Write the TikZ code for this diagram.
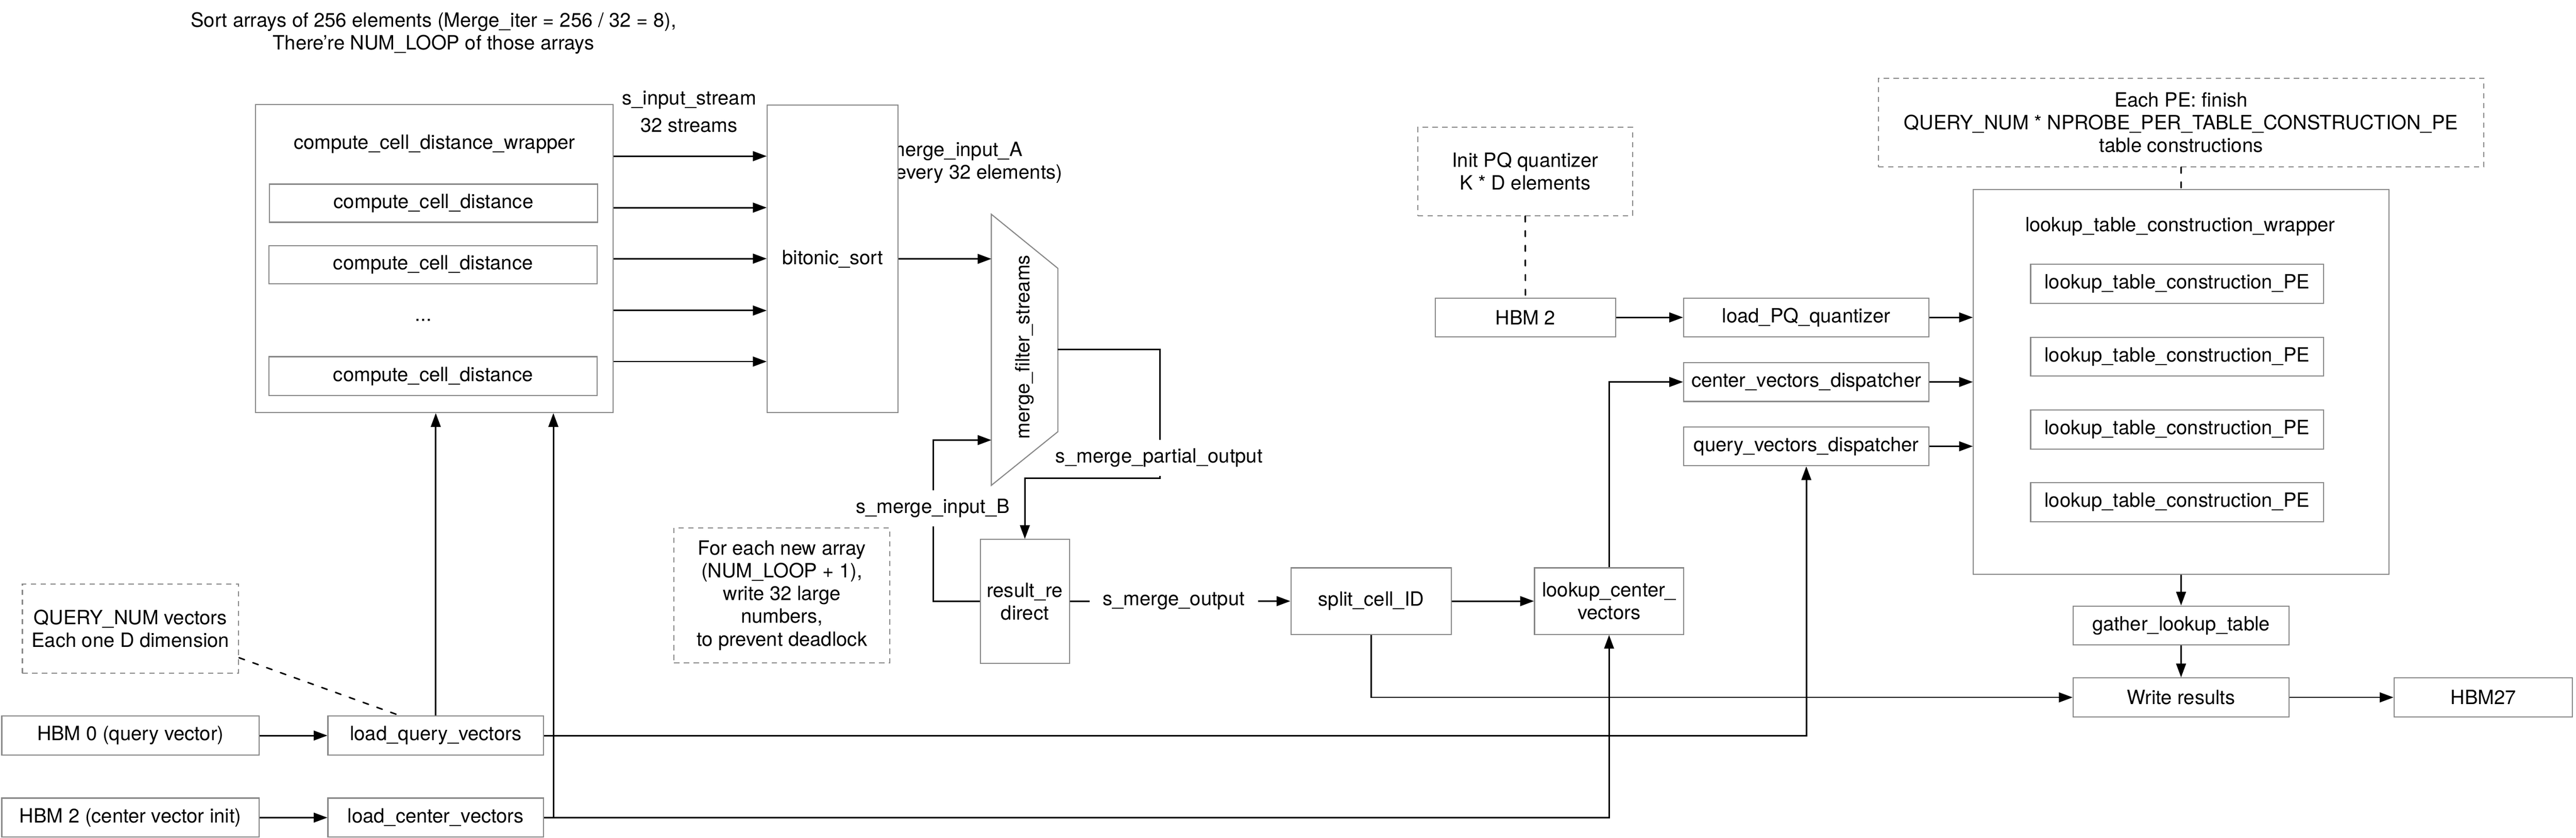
\documentclass[tikz,border=0pt]{standalone}
\usepackage{fontspec}
\setmainfont{TeX Gyre Heros}
\usetikzlibrary{arrows.meta}
\definecolor{boxgray}{HTML}{888888}

\begin{document}
\begin{tikzpicture}[
  font=\fontsize{12.6}{14.6}\selectfont,
  block/.style={draw=boxgray, line width=0.7pt, fill=white, inner sep=0pt, align=center},
  memo/.style={draw=boxgray, line width=0.7pt, dash pattern=on 0.12cm off 0.1cm, fill=white, inner sep=0pt, align=center},
  flow/.style={line width=0.95pt, -{Triangle[length=0.31cm, width=0.22cm]}},
  wire/.style={line width=0.95pt},
  tie/.style={line width=0.95pt, line cap=round, dash pattern=on 0.13cm off 0.2cm},
  edgelbl/.style={fill=white, inner xsep=0.1cm, inner ysep=0.2cm}
]
\useasboundingbox (0,0) rectangle (58.05,-18.88);

% sorting part
\node[align=center] (title) at (9.77,-0.75) {Sort arrays of 256 elements (Merge\_iter = 256 / 32 = 8),\\There’re NUM\_LOOP of those arrays};

\node[block, minimum width=8.06cm, minimum height=6.94cm] (cwrap) at (9.79,-5.83) {};
\node (cwraplbl) at (9.79,-3.25) {compute\_cell\_distance\_wrapper};
\node[block, minimum width=7.40cm, minimum height=0.86cm] (ccd1) at (9.77,-4.58) {compute\_cell\_distance};
\node[block, minimum width=7.40cm, minimum height=0.86cm] (ccd2) at (9.76,-5.97) {compute\_cell\_distance};
\node (ccddots) at (9.54,-7.22) {...};
\node[block, minimum width=7.40cm, minimum height=0.88cm] (ccd3) at (9.76,-8.48) {compute\_cell\_distance};

\node[anchor=west, align=left, inner sep=0pt] (mergeA) at (20.03,-3.67) {merge\_input\_A\\(every 32 elements)};
\node[block, minimum width=2.95cm, minimum height=6.93cm] (sort) at (18.765,-5.835) {bitonic\_sort};
\node[align=center] (instream) at (15.53,-2.52) {s\_input\_stream\\[0.1cm]32 streams};

\draw[flow] (cwrap.east |- 0,-3.52) -- (sort.west |- 0,-3.52);
\draw[flow] (cwrap.east |- 0,-4.68) -- (sort.west |- 0,-4.68);
\draw[flow] (cwrap.east |- 0,-5.83) -- (sort.west |- 0,-5.83);
\draw[flow] (cwrap.east |- 0,-7.00) -- (sort.west |- 0,-7.00);
\draw[flow] (cwrap.east |- 0,-8.15) -- (sort.west |- 0,-8.15);

% merge
\draw[draw=boxgray, line width=0.7pt, fill=white] (22.34,-4.83) -- (23.84,-6.05) -- (23.84,-9.73) -- (22.34,-10.94) -- cycle;
\node[rotate=90] (mfs) at (23.09,-7.82) {merge\_filter\_streams};
\coordinate (mfsA) at (22.34,-5.835);
\coordinate (mfsB) at (22.34,-9.92);
\coordinate (mfsout) at (23.84,-7.88);

\node[block, minimum width=2.01cm, minimum height=2.79cm] (rr) at (23.095,-13.555) {result\_re\\direct};
\node[block, minimum width=3.62cm, minimum height=1.50cm] (split) at (30.90,-13.55) {split\_cell\_ID};
\node[memo, minimum width=4.86cm, minimum height=3.04cm] (deadnote) at (17.62,-13.42) {For each new array\\(NUM\_LOOP + 1),\\write 32 large\\numbers,\\to prevent deadlock};

\draw[flow] (sort.east) -- (mfsA);
\coordinate (pbend) at (26.14,-10.775);
\draw[flow] (mfsout) -| (pbend) -| (rr.north);
\node[edgelbl] (partlbl) at (26.12,-10.32) {s\_merge\_partial\_output};
\coordinate (bbend) at (21.03,-9.92);
\draw[flow] (rr.west) -| (bbend) -- (mfsB);
\node[edgelbl] (blbl) at (21.02,-11.46) {s\_merge\_input\_B};
\draw[flow] (rr.east) -- (split.west);
\node[edgelbl, inner xsep=0.3cm] (outlbl) at (26.45,-13.55) {s\_merge\_output};

% loaders
\node[memo, minimum width=4.87cm, minimum height=2.01cm] (qnote) at (2.94,-14.17) {QUERY\_NUM vectors\\Each one D dimension};
\node[block, minimum width=5.80cm, minimum height=0.88cm] (hbm0) at (2.94,-16.58) {HBM 0 (query vector)};
\node[block, minimum width=4.86cm, minimum height=0.88cm] (lqv) at (9.82,-16.58) {load\_query\_vectors};
\node[block, minimum width=5.80cm, minimum height=0.88cm] (hbm2c) at (2.94,-18.43) {HBM 2 (center vector init)};
\node[block, minimum width=4.86cm, minimum height=0.88cm] (lcv) at (9.82,-18.43) {load\_center\_vectors};

% lookup table part
\node[memo, minimum width=4.84cm, minimum height=1.99cm] (pqnote) at (34.37,-3.865) {Init PQ quantizer\\K * D elements};
\node[block, minimum width=4.07cm, minimum height=0.87cm] (hbmpq) at (34.375,-7.155) {HBM 2};
\node[block, minimum width=5.53cm, minimum height=0.87cm] (lpq) at (40.705,-7.155) {load\_PQ\_quantizer};
\node[block, minimum width=5.53cm, minimum height=0.88cm] (cvd) at (40.705,-8.61) {center\_vectors\_dispatcher};
\node[block, minimum width=5.53cm, minimum height=0.88cm] (qvd) at (40.705,-10.06) {query\_vectors\_dispatcher};
\node[block, minimum width=3.36cm, minimum height=1.50cm] (lcvec) at (36.26,-13.55) {lookup\_center\_\\vectors};

\node[memo, minimum width=13.64cm, minimum height=2.00cm] (penote) at (49.15,-2.76) {Each PE: finish\\QUERY\_NUM * NPROBE\_PER\_TABLE\_CONSTRUCTION\_PE\\table constructions};
\node[block, minimum width=9.36cm, minimum height=8.68cm] (ltwrap) at (49.15,-8.61) {};
\node (ltwraplbl) at (49.13,-5.11) {lookup\_table\_construction\_wrapper};
\node[block, minimum width=6.60cm, minimum height=0.88cm] (pe1) at (49.06,-6.40) {lookup\_table\_construction\_PE};
\node[block, minimum width=6.60cm, minimum height=0.88cm] (pe2) at (49.06,-8.04) {lookup\_table\_construction\_PE};
\node[block, minimum width=6.60cm, minimum height=0.88cm] (pe3) at (49.06,-9.68) {lookup\_table\_construction\_PE};
\node[block, minimum width=6.60cm, minimum height=0.88cm] (pe4) at (49.06,-11.32) {lookup\_table\_construction\_PE};
\node[block, minimum width=4.86cm, minimum height=0.88cm] (gather) at (49.15,-14.10) {gather\_lookup\_table};
\node[block, minimum width=4.86cm, minimum height=0.88cm] (write) at (49.15,-15.72) {Write results};
\node[block, minimum width=4.02cm, minimum height=0.88cm] (hbm27) at (55.96,-15.72) {HBM27};

% connections
\draw[flow] (hbm0) -- (lqv);
\draw[flow] (hbm2c) -- (lcv);
\draw[tie] (qnote.-15) -- (lqv.151);
\draw[flow] (lqv.north) -- (lqv.north |- cwrap.south);
\coordinate (lcvfork) at (12.47,-18.43);
\draw[wire] (lcv.east) -- (lcvfork);
\draw[flow] (lcvfork) -- (lcvfork |- cwrap.south);
\draw[flow] (lcvfork) -| (lcvec.south);
\draw[flow] (lqv.east) -| (qvd.south);
\draw[flow] (split) -- (lcvec);
\draw[flow] (split.south) |- (write.west);
\draw[flow] (lcvec.north) |- (cvd.west);

\draw[tie] (pqnote.south) -- (hbmpq.north);
\draw[flow] (hbmpq) -- (lpq);
\draw[flow] (lpq.east) -- (lpq.east -| ltwrap.west);
\draw[flow] (cvd.east) -- (cvd.east -| ltwrap.west);
\draw[flow] (qvd.east) -- (qvd.east -| ltwrap.west);
\draw[tie] (penote.south) -- (ltwrap.north);
\draw[flow] (ltwrap.south) -- (gather.north);
\draw[flow] (gather) -- (write);
\draw[flow] (write) -- (hbm27);
\end{tikzpicture}
\end{document}
